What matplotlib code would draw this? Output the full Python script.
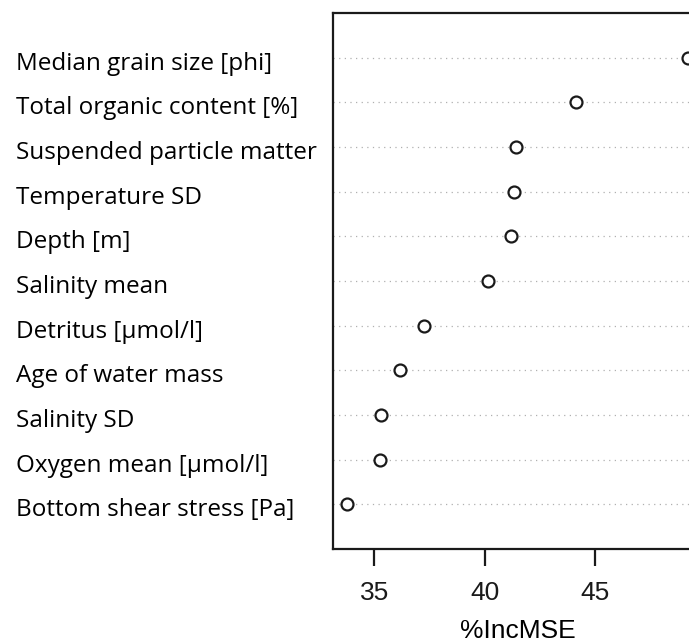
import matplotlib
matplotlib.use("Agg")
import matplotlib.pyplot as plt
import matplotlib.transforms as mtransforms

# variable importance (%IncMSE), top row first
labels = [
    "Median grain size [phi]",
    "Total organic content [%]",
    "Suspended particle matter",
    "Temperature SD",
    "Depth [m]",
    "Salinity mean",
    "Detritus [\u00b5mol/l]",
    "Age of water mass",
    "Salinity SD",
    "Oxygen mean [\u00b5mol/l]",
    "Bottom shear stress [Pa]",
]
inc_mse = [49.2, 44.15, 41.43, 41.31, 41.17, 40.14, 37.25, 36.15, 35.3, 35.27, 33.76]
x_ticks = [35, 40, 45]

n = len(labels)
ypos = list(range(n, 0, -1))

fig = plt.figure(figsize=(6.89, 6.43), dpi=100)
# axes run past the right edge, like the cropped original
ax = fig.add_axes([333.3 / 689, 1 - 549 / 643, (701.7 - 333.3) / 689, 536 / 643])

for y in ypos:
    ax.axhline(y, color="#b0b0b0", linestyle=(0, (1, 3.5)), linewidth=0.9, zorder=1)
ax.plot(inc_mse, ypos, linestyle="none", marker="o", markersize=8.6,
        markerfacecolor="white", markeredgecolor="#1a1a1a", markeredgewidth=1.6,
        zorder=3, clip_on=False)

lo = min(inc_mse)
hi = max(inc_mse)
ext = 0.04 * (hi - lo)
ax.set_xlim(lo - ext, hi + ext)
ax.set_ylim(0, n + 1)

ax.set_yticks([])
ax.set_xticks(x_ticks)
ax.set_xticklabels([str(t) for t in x_ticks], family="Liberation Sans", fontsize=19)
ax.tick_params(axis="x", direction="out", length=12, width=1.6, pad=11, colors="#1a1a1a")
for side in ["left", "bottom", "top", "right"]:
    ax.spines[side].set_linewidth(1.6)
    ax.spines[side].set_color("#1a1a1a")
ax.set_xlabel("%IncMSE", family="Liberation Sans", fontsize=19, labelpad=10)

tr = mtransforms.blended_transform_factory(fig.transFigure, ax.transData)
for lab, y in zip(labels, ypos):
    ax.text(16 / 689, y - 0.27, lab, transform=tr, ha="left", va="baseline",
            family="Open Sans", fontsize=17.5, color="black")

fig.savefig("out.png", dpi=100)
